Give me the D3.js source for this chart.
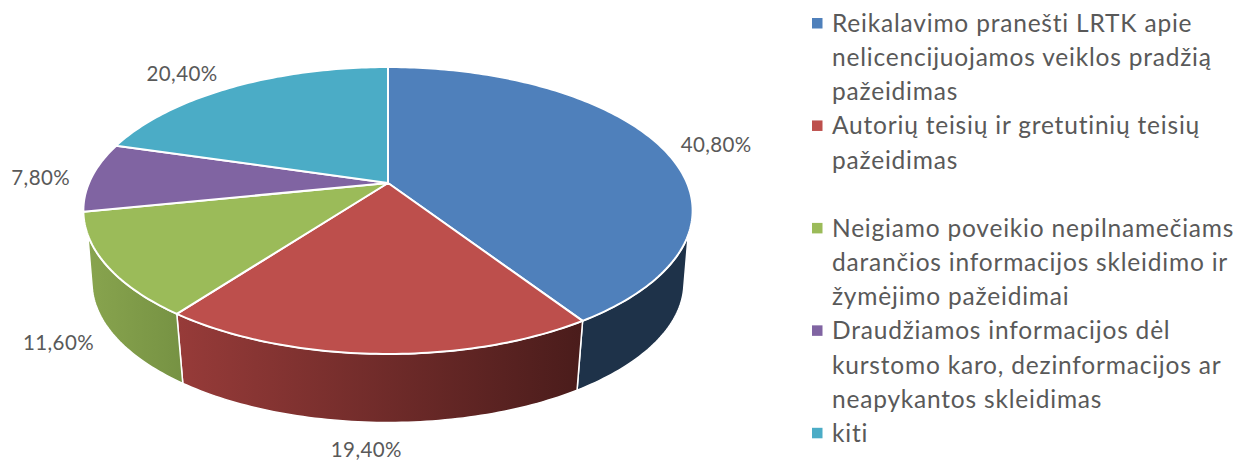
<!DOCTYPE html>
<html><head><meta charset="utf-8">
<style>html,body{margin:0;padding:0;background:#fff}svg{display:block}text{font-family:Lato,"Open Sans",sans-serif}</style>
<script src="https://cdn.jsdelivr.net/npm/d3@7"></script></head>
<body><svg id="c" width="1238" height="460"></svg>
<script>
const categories=["Reikalavimo pranešti LRTK apie nelicencijuojamos veiklos pradžią pažeidimas","Autorių teisių ir gretutinių teisių pažeidimas","Neigiamo poveikio nepilnamečiams darančios informacijos skleidimo ir žymėjimo pažeidimai","Draudžiamos informacijos dėl kurstomo karo, dezinformacijos ar neapykantos skleidimas","kiti"];
const values=[40.8,19.4,11.6,7.8,20.4];
const valueLabels=["40,80%","19,40%","11,60%","7,80%","20,40%"];
const legendLines=[["Reikalavimo pranešti LRTK apie","nelicencijuojamos veiklos pradžią","pažeidimas"],["Autorių teisių ir gretutinių teisių","pažeidimas",""],["Neigiamo poveikio nepilnamečiams","darančios informacijos skleidimo ir","žymėjimo pažeidimai"],["Draudžiamos informacijos dėl","kurstomo karo, dezinformacijos ar","neapykantos skleidimas"],["kiti"]];
const topColors=["#4f80bb","#bd4f4c","#9bbb59","#8064a2","#4bacc6"];
const wallFrom=["#1e3249","#973b39","#88a44e","#5f4a79","#2f7c90"];
const wallTo=["#1e3249","#4a1c1b","#769243","#5f4a79","#2f7c90"];
const labelFactor=[1.17,1.07,1.12,1.14,1.06];
const labelShift=[[13,5],[-9,81],[-10,66],[-10,2],[-43,-8]];

const svg=d3.select("#c");
const persp=0.1916;
const topFace={x:388,y:183,a:299,b:138.2};
const botFace={x:388,y:255.5,a:290.5,b:135};
const proj=(f,t,r=1)=>{const u=Math.sin(t)*r,v=-Math.cos(t)*r,w=1-persp*v;return [f.x+f.a*u/w,f.y+f.b*v/w];};
const rad=d=>d*Math.PI/180;
const arcPts=(f,a,b)=>{const n=Math.max(2,Math.ceil(Math.abs(b-a)/rad(1)));return d3.range(n+1).map(i=>proj(f,a+(b-a)*i/n));};
const line=d3.line();
const arcs=d3.pie().sort(null).value(d=>d)(values);

const defs=svg.append("defs");
const topVis=[rad(110.5),rad(249.5)],botVis=[rad(102.9),rad(257.1)];
arcs.forEach((d,i)=>{
  const t0=Math.max(d.startAngle,topVis[0]),t1=Math.min(d.endAngle,topVis[1]);
  const b0=Math.max(d.startAngle,botVis[0]),b1=Math.min(d.endAngle,botVis[1]);
  if(t1<=t0||b1<=b0)return;
  const pts=[...arcPts(topFace,t0,t1),...arcPts(botFace,b1,b0)];
  const xs=d3.extent(pts,p=>p[0]);
  const g=defs.append("linearGradient").attr("id","w"+i).attr("gradientUnits","userSpaceOnUse")
    .attr("x1",xs[0]).attr("x2",xs[1]).attr("y1",0).attr("y2",0);
  g.append("stop").attr("offset",0).attr("stop-color",wallFrom[i]);
  g.append("stop").attr("offset",1).attr("stop-color",wallTo[i]);
  svg.append("path").attr("d",line(pts)+"Z").attr("fill",`url(#w${i})`).attr("stroke","#fff").attr("stroke-width",1.5).attr("stroke-linejoin","round");
});
arcs.forEach((d,i)=>{
  const pts=[[topFace.x,topFace.y],...arcPts(topFace,d.startAngle,d.endAngle)];
  svg.append("path").attr("d",line(pts)+"Z").attr("fill",topColors[i]).attr("stroke","#fff").attr("stroke-width",2).attr("stroke-linejoin","round");
});
arcs.forEach((d,i)=>{
  const p=proj(topFace,(d.startAngle+d.endAngle)/2,labelFactor[i]);
  svg.append("text").attr("x",p[0]+labelShift[i][0]).attr("y",p[1]+labelShift[i][1]+7).attr("text-anchor","middle")
    .attr("font-size",20.5).attr("letter-spacing",0.4).attr("fill","#595959").text(valueLabels[i]);
});
const y0=32,lh=34.15;let row=0;
legendLines.forEach((ls,i)=>{
  svg.append("rect").attr("x",812).attr("y",y0+lh*row-14).attr("width",10.5).attr("height",10.5).attr("fill",topColors[i]);
  ls.forEach(s=>{ if(s) svg.append("text").attr("x",832).attr("y",y0+lh*row).attr("font-size",24.5).attr("letter-spacing",0.8).attr("fill","#595959").text(s); row++;});
});
</script></body></html>
